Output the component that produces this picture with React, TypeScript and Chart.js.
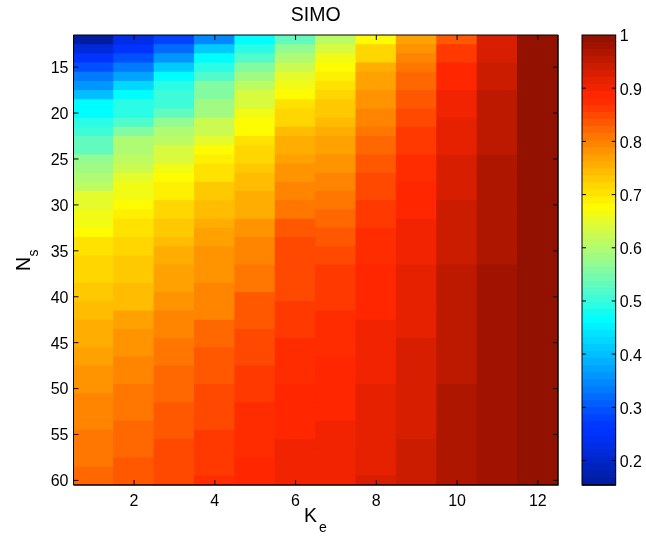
import React, { useEffect, useRef } from "react";
import { Chart, registerables } from "chart.js";

Chart.register(...registerables);

const kValues = ["1", "2", "3", "4", "5", "6", "7", "8", "9", "10", "11", "12"];
const nsValues = [12, 13, 14, 15, 16, 17, 18, 19, 20, 21, 22, 23, 24, 25, 26, 27, 28, 29, 30, 31, 32, 33, 34, 35, 36, 37, 38, 39, 40, 41, 42, 43, 44, 45, 46, 47, 48, 49, 50, 51, 52, 53, 54, 55, 56, 57, 58, 59, 60];
const nsTicks = [15, 20, 25, 30, 35, 40, 45, 50, 55, 60];
const colorbarTicks = [0.2, 0.3, 0.4, 0.5, 0.6, 0.7, 0.8, 0.9, 1];

const ke1 = [.161, .213, .253, .293, .332, .359, .399, .465, .465, .491, .504, .531, .531, .570, .584, .597, .610, .650, .650, .663, .663, .676, .703, .703, .716, .716, .716, .729, .729, .742, .742, .755, .755, .755, .769, .769, .782, .782, .782, .795, .795, .795, .795, .808, .808, .808, .808, .822, .822];
const ke2 = [.227, .253, .293, .332, .372, .425, .465, .491, .491, .518, .557, .597, .597, .610, .623, .650, .663, .663, .676, .689, .703, .703, .716, .716, .729, .729, .729, .742, .742, .742, .769, .769, .782, .782, .782, .795, .795, .795, .808, .808, .808, .808, .822, .822, .822, .822, .835, .835, .835];
const ke3 = [.280, .319, .359, .412, .465, .491, .504, .504, .531, .570, .597, .610, .637, .637, .663, .676, .689, .689, .716, .716, .729, .729, .742, .755, .755, .769, .769, .769, .782, .782, .795, .795, .795, .808, .808, .808, .822, .822, .822, .822, .835, .835, .835, .835, .848, .848, .848, .848, .848];
const ke4 = [.346, .412, .465, .491, .518, .557, .557, .584, .584, .623, .623, .650, .676, .689, .703, .703, .729, .729, .742, .742, .755, .769, .769, .782, .782, .782, .782, .795, .795, .795, .795, .822, .822, .822, .835, .835, .835, .835, .848, .848, .848, .848, .848, .861, .861, .861, .861, .861, .874];
const ke5 = [.465, .491, .518, .557, .584, .610, .637, .637, .663, .676, .676, .703, .716, .716, .729, .742, .742, .755, .755, .755, .782, .782, .795, .795, .795, .808, .808, .808, .835, .835, .835, .835, .848, .848, .848, .848, .861, .861, .861, .861, .874, .874, .874, .874, .874, .874, .888, .888, .888];
const ke6 = [.531, .570, .597, .623, .650, .663, .676, .703, .716, .716, .742, .755, .755, .769, .782, .782, .795, .795, .808, .808, .835, .835, .848, .848, .848, .848, .848, .848, .848, .861, .861, .861, .861, .874, .874, .874, .874, .874, .888, .888, .888, .888, .888, .888, .901, .901, .901, .901, .901];
const ke7 = [.610, .637, .663, .676, .689, .703, .716, .729, .729, .742, .755, .769, .769, .782, .782, .795, .795, .808, .808, .822, .822, .835, .835, .848, .848, .861, .861, .861, .861, .861, .874, .874, .874, .874, .874, .888, .888, .888, .888, .888, .888, .888, .901, .901, .901, .901, .901, .901, .901];
const ke8 = [.676, .716, .716, .755, .769, .769, .782, .782, .795, .795, .808, .822, .822, .835, .835, .848, .848, .848, .861, .861, .861, .874, .874, .874, .874, .888, .888, .888, .888, .888, .888, .901, .901, .901, .901, .901, .901, .901, .914, .914, .914, .914, .914, .914, .914, .914, .914, .914, .927];
const ke9 = [.769, .782, .795, .808, .822, .822, .835, .835, .848, .848, .861, .861, .861, .874, .874, .874, .888, .888, .888, .888, .901, .901, .901, .901, .901, .914, .914, .914, .914, .914, .914, .914, .914, .927, .927, .927, .927, .927, .927, .927, .927, .927, .927, .927, .941, .941, .941, .941, .941];
const ke10 = [.835, .861, .861, .888, .888, .888, .901, .901, .901, .914, .914, .914, .914, .927, .927, .927, .927, .927, .941, .941, .941, .941, .941, .941, .941, .954, .954, .954, .954, .954, .954, .954, .954, .954, .954, .954, .954, .954, .967, .967, .967, .967, .967, .967, .967, .967, .967, .967, .967];
const ke11 = [.927, .927, .927, .941, .941, .941, .954, .954, .954, .954, .954, .954, .954, .967, .967, .967, .967, .967, .967, .967, .967, .967, .967, .967, .967, .980, .980, .980, .980, .980, .980, .980, .980, .980, .980, .980, .980, .980, .980, .980, .980, .980, .980, .980, .980, .980, .980, .980, .980];
const ke12 = [.993, .993, .993, .993, .993, .993, .993, .993, .993, .993, .993, .993, .993, .993, .993, .993, .993, .993, .993, .993, .993, .993, .993, .993, .993, .993, .993, .993, .993, .993, .993, .993, .993, .993, .993, .993, .993, .993, .993, .993, .993, .993, .993, .993, .993, .993, .993, .993, .993];
const columns = [ke1, ke2, ke3, ke4, ke5, ke6, ke7, ke8, ke9, ke10, ke11, ke12];

const C_MIN = 0.154;
const C_MAX = 1;
const LEVELS = 64;
const FONT = '"Liberation Sans", Helvetica, Arial, sans-serif';

const clamp = (x: number) => Math.max(0, Math.min(1, x));
const encode = (c: number) => {
  const v = clamp(c);
  const s = v <= 0.0031308 ? v * 12.92 : 1.055 * Math.pow(v, 1 / 2.4) - 0.055;
  return Math.round(s * 255);
};
function levelColor(k: number) {
  const r = clamp(Math.min((k - 23) / 16, 1 - (k - 55) / 16));
  const g = clamp(Math.min((k - 7) / 16, (55 - k) / 16));
  const b = clamp(Math.min(0.5625 + k / 16, (39 - k) / 16));
  const lr = Math.pow(r, 1.8);
  const lg = Math.pow(g, 1.8);
  const lb = Math.pow(b, 1.8);
  return `rgb(${encode(lr)},${encode(0.019 * lr + 0.947 * lg + 0.033 * lb)},${encode(lb)})`;
}
function valueColor(v: number) {
  const k = Math.max(0, Math.min(LEVELS - 1, Math.floor(((v - C_MIN) / (C_MAX - C_MIN)) * LEVELS)));
  return levelColor(k);
}

function inwardTick(ctx: CanvasRenderingContext2D, x: number, y: number, dx: number, dy: number) {
  ctx.beginPath();
  ctx.moveTo(x, y);
  ctx.lineTo(x + dx, y + dy);
  ctx.stroke();
}

function shiftLabels(scale: any, dy: number) {
  for (const item of scale.getLabelItems(scale.chart.chartArea)) {
    item.options.translation = [item.options.translation[0], item.options.translation[1] + dy];
  }
}

const heatFrame = {
  id: "heatFrame",
  afterUpdate(chart: any) {
    shiftLabels(chart.scales.y, 1.5);
  },
  afterDatasetsDraw(chart: any) {
    const { ctx, chartArea: a, scales } = chart;
    ctx.save();
    ctx.strokeStyle = "#000";
    ctx.lineWidth = 1;
    for (const t of nsTicks) {
      const y = scales.y.getPixelForValue(t);
      inwardTick(ctx, a.left, y, 5, 0);
      inwardTick(ctx, a.right, y, -5, 0);
    }
    kValues.forEach((lab, i) => {
      if (Number(lab) % 2 === 0) {
        const x = scales.x.getPixelForValue(i);
        inwardTick(ctx, x, a.top, 0, 5);
        inwardTick(ctx, x, a.bottom, 0, -5);
      }
    });
    ctx.lineWidth = 1;
    ctx.beginPath();
    ctx.moveTo(a.left, a.bottom);
    ctx.lineTo(a.left, a.top);
    ctx.lineTo(a.right, a.top);
    ctx.stroke();
    ctx.lineWidth = 1.5;
    ctx.beginPath();
    ctx.moveTo(a.left, a.bottom);
    ctx.lineTo(a.right, a.bottom);
    ctx.lineTo(a.right, a.top);
    ctx.stroke();

    ctx.fillStyle = "#000";
    ctx.textAlign = "left";
    ctx.textBaseline = "alphabetic";
    ctx.font = `19.5px ${FONT}`;
    ctx.fillText("K", 304, 522);
    ctx.font = `14px ${FONT}`;
    ctx.fillText("e", 319, 531.5);

    ctx.translate(30, 271);
    ctx.rotate(-Math.PI / 2);
    ctx.font = `19.5px ${FONT}`;
    ctx.fillText("N", 0, 0);
    ctx.font = `14px ${FONT}`;
    ctx.fillText("s", 14.5, 8);
    ctx.restore();
  },
};

const barFrame = {
  id: "barFrame",
  afterUpdate(chart: any) {
    shiftLabels(chart.scales.y, 2);
  },
  afterDatasetsDraw(chart: any) {
    const { ctx, chartArea: a, scales } = chart;
    ctx.save();
    ctx.strokeStyle = "#000";
    ctx.lineWidth = 1;
    for (const t of colorbarTicks) {
      if (t >= C_MAX) continue;
      const y = scales.y.getPixelForValue(t);
      inwardTick(ctx, a.left, y, 4, 0);
      inwardTick(ctx, a.right, y, -4, 0);
    }
    ctx.strokeRect(a.left, a.top, a.right - a.left, a.bottom - a.top);
    ctx.lineWidth = 1.5;
    ctx.beginPath();
    ctx.moveTo(a.left, a.bottom);
    ctx.lineTo(a.right, a.bottom);
    ctx.stroke();
    ctx.restore();
  },
};

export default function App() {
  const mainRef = useRef<HTMLCanvasElement>(null);
  const barRef = useRef<HTMLCanvasElement>(null);

  useEffect(() => {
    const main = new Chart(mainRef.current!, {
      type: "bar",
      plugins: [heatFrame],
      data: {
        labels: kValues,
        datasets: nsValues.map((ns, row) => ({
          label: `Ns ${ns}`,
          data: columns.map(() => [ns - 0.62, ns + 0.5]),
          backgroundColor: columns.map((col) => valueColor(col[row])),
          grouped: false,
          barPercentage: 1.03,
          categoryPercentage: 1,
          borderWidth: 0,
        })),
      } as any,
      options: {
        responsive: false,
        animation: false,
        layout: { padding: { left: 0, right: 88, top: 0, bottom: 0 } },
        plugins: {
          legend: { display: false },
          tooltip: { enabled: false },
          title: {
            display: true,
            text: "SIMO",
            color: "#000",
            font: { family: FONT, size: 19.5, weight: "normal" },
            padding: { top: 4.3, bottom: 7.3 },
            fullSize: false,
          },
        },
        scales: {
          x: {
            type: "category",
            afterFit: (s: any) => { s.height = 52; },
            grid: { drawOnChartArea: false, drawTicks: false },
            border: { display: false },
            ticks: {
              autoSkip: false,
              maxRotation: 0,
              color: "#000",
              padding: 7,
              font: { family: FONT, size: 16 },
              callback: (_v: any, i: number) => (Number(kValues[i]) % 2 === 0 ? kValues[i] : ""),
            },
          },
          y: {
            type: "linear",
            reverse: true,
            min: 11.5,
            max: 60.5,
            afterFit: (s: any) => { s.width = 73.5; },
            afterBuildTicks: (s: any) => { s.ticks = nsTicks.map((value) => ({ value })); },
            grid: { drawOnChartArea: false, drawTicks: false },
            border: { display: false },
            ticks: {
              color: "#000",
              padding: 5,
              font: { family: FONT, size: 16 },
            },
          },
        },
      } as any,
    });

    const levels = Array.from({ length: LEVELS }, (_, k) => k);
    const step = (C_MAX - C_MIN) / LEVELS;
    const bar = new Chart(barRef.current!, {
      type: "bar",
      plugins: [barFrame],
      data: {
        labels: ["colorbar"],
        datasets: levels.map((k) => ({
          label: `level ${k}`,
          data: [[C_MIN + (k - 0.17) * step, C_MIN + (k + 1) * step]],
          backgroundColor: levelColor(k),
          grouped: false,
          barPercentage: 1,
          categoryPercentage: 1,
          borderWidth: 0,
        })),
      } as any,
      options: {
        responsive: false,
        animation: false,
        layout: { padding: { left: 22, right: 0, top: 35, bottom: 0 } },
        plugins: { legend: { display: false }, tooltip: { enabled: false } },
        scales: {
          x: {
            type: "category",
            afterFit: (s: any) => { s.height = 52; },
            grid: { display: false },
            border: { display: false },
            ticks: { display: false },
          },
          y: {
            type: "linear",
            position: "right",
            min: C_MIN,
            max: C_MAX,
            afterFit: (s: any) => { s.width = 30.3; },
            afterBuildTicks: (s: any) => { s.ticks = colorbarTicks.map((value) => ({ value })); },
            grid: { drawOnChartArea: false, drawTicks: false },
            border: { display: false },
            ticks: {
              color: "#000",
              padding: 4,
              font: { family: FONT, size: 16 },
              callback: (v: any) => String(v),
            },
          },
        },
      } as any,
    });

    return () => {
      main.destroy();
      bar.destroy();
    };
  }, []);

  return (
    <div style={{ position: "absolute", left: 0, top: 0, width: 646, height: 537, background: "#fff", overflow: "hidden" }}>
      <canvas ref={mainRef} width={646} height={537} style={{ position: "absolute", left: 0, top: 0, display: "block" }} />
      <canvas ref={barRef} width={86} height={537} style={{ position: "absolute", left: 560, top: 0, display: "block" }} />
    </div>
  );
}
